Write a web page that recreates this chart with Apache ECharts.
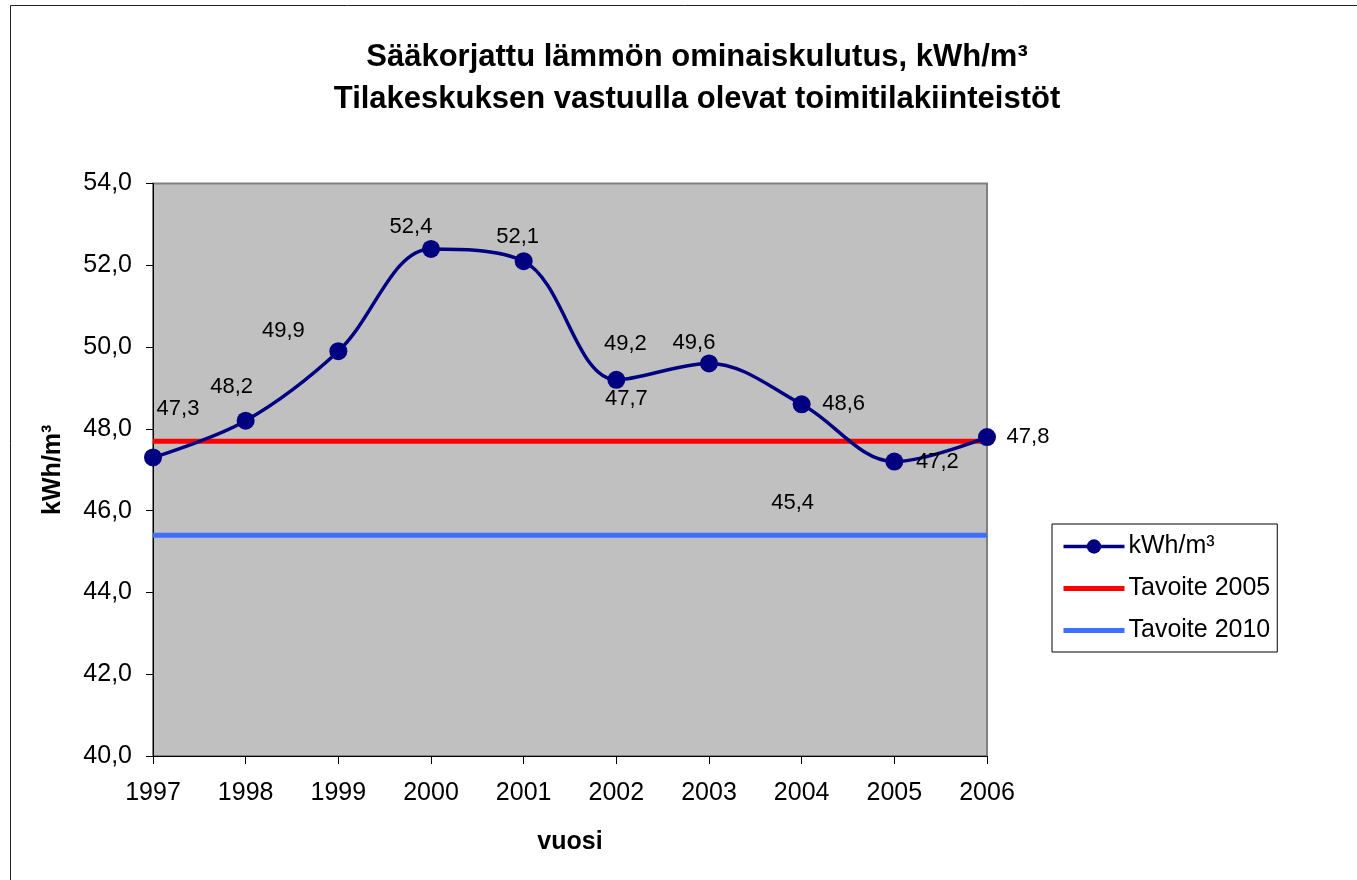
<!DOCTYPE html>
<html>
<head>
<meta charset="utf-8">
<script src="https://cdn.jsdelivr.net/npm/echarts@6/dist/echarts.min.js"></script>
<style>
html,body{margin:0;padding:0;background:#fff;}
#chart{width:1357px;height:880px;}
</style>
</head>
<body>
<div id="chart"></div>
<script>
const years = ['1997','1998','1999','2000','2001','2002','2003','2004','2005','2006'];
const kwh = [47.3, 48.2, 49.9, 52.4, 52.1, 49.2, 49.6, 48.6, 47.2, 47.8];
const target2005 = [47.7, 47.7, 47.7, 47.7, 47.7, 47.7, 47.7, 47.7, 47.7, 47.7];
const target2010 = [45.4, 45.4, 45.4, 45.4, 45.4, 45.4, 45.4, 45.4, 45.4, 45.4];
const yTicks = { min: 40, max: 54, interval: 2 };
const titleLines = ['Sääkorjattu lämmön ominaiskulutus, kWh/m³', 'Tilakeskuksen vastuulla olevat toimitilakiinteistöt'];
const seriesNames = ['kWh/m³', 'Tavoite 2005', 'Tavoite 2010'];

// label offsets (style), per point
const kwhLabelOffsets = [[25,-49],[-14,-34],[-55,-20],[-20,-22],[-6,-24],[9,-36],[-15,-20],[42,0],[43,0],[41,0]];
const t2005LabelIndex = 5, t2005LabelOffset = [10,-42];
const t2010LabelIndex = 7, t2010LabelOffset = [-9,-32];

const fmt = v => v.toFixed(1).replace('.', ',');
const FONT = '"Liberation Sans", Arial, sans-serif';

const chart = echarts.init(document.getElementById('chart'), null, {renderer:'canvas'});

const lblBase = {show:true, position:'inside', color:'#000', fontSize:22, fontFamily:FONT,
  formatter: p => fmt(p.value)};

const kwhData = kwh.map((v,i) => ({value:v, label:Object.assign({}, lblBase, {offset:kwhLabelOffsets[i]})}));
const t05Data = target2005.map((v,i) => i===t2005LabelIndex ? {value:v, label:Object.assign({}, lblBase, {offset:t2005LabelOffset})} : {value:v});
const t10Data = target2010.map((v,i) => i===t2010LabelIndex ? {value:v, label:Object.assign({}, lblBase, {offset:t2010LabelOffset})} : {value:v});

chart.setOption({
  animation:false,
  backgroundColor:'#fff',
  textStyle:{fontFamily:FONT},
  title:{
    text: titleLines.join('\n'),
    left: 692, top: 31, textAlign:'center',
    textStyle:{fontSize:31, fontWeight:'bold', color:'#000', lineHeight:42, fontFamily:FONT}
  },
  graphic:[{type:'rect', shape:{x:10.5,y:5.5,width:1400,height:900}, style:{fill:'none', stroke:'#222', lineWidth:1}, silent:true, z:-1}],
  grid:{left:153, right:370, top:183.5, bottom:124, show:true, backgroundColor:'#C0C0C0', borderColor:'#808080', borderWidth:2},
  legend:{
    orient:'vertical', left:1052, top:524,
    data: [
      {name:seriesNames[0], lineStyle:{width:3.5, color:'#000080'}},
      {name:seriesNames[1], itemStyle:{opacity:0}, lineStyle:{width:5, color:'#FF0000'}},
      {name:seriesNames[2], itemStyle:{opacity:0}, lineStyle:{width:5, color:'#3F6FFF'}}
    ],
    backgroundColor:'#fff', borderColor:'#000', borderWidth:1,
    padding:[10,7,9,9], itemWidth:61, itemHeight:18, itemGap:17,
    textStyle:{fontSize:25, color:'#000', fontFamily:FONT, padding:[0,0,0,-1]}
  },
  xAxis:{
    type:'category', data:years, boundaryGap:false,
    name:'vuosi', nameLocation:'middle', nameGap:74,
    nameTextStyle:{fontSize:25, fontWeight:'bold', color:'#000', fontFamily:FONT},
    axisLine:{lineStyle:{color:'#000', width:1}},
    axisTick:{show:true, length:8, lineStyle:{color:'#000'}},
    axisLabel:{fontSize:25, color:'#000', margin:25, fontFamily:FONT},
    splitLine:{show:false}
  },
  yAxis:{
    type:'value', min:yTicks.min, max:yTicks.max, interval:yTicks.interval,
    name:'kWh/m³', nameLocation:'middle', nameGap:87, nameRotate:90,
    nameTextStyle:{fontSize:25, fontWeight:'bold', color:'#000', fontFamily:FONT},
    axisLine:{show:true, lineStyle:{color:'#000', width:1}},
    axisTick:{show:true, length:7, lineStyle:{color:'#000'}},
    axisLabel:{fontSize:25, color:'#000', margin:21, formatter:v=>fmt(v), fontFamily:FONT},
    splitLine:{show:false}
  },
  series:[
    {name:seriesNames[0], type:'line', data:kwhData, smooth:0.35, z:5,
      symbol:'circle', symbolSize:18, showAllSymbol:true,
      lineStyle:{color:'#000080', width:3.5}, itemStyle:{color:'#000080'}},
    {name:seriesNames[1], type:'line', data:t05Data, showSymbol:true, showAllSymbol:true, symbol:'circle', symbolSize:0.01, z:3,
      lineStyle:{color:'#FF0000', width:5}, itemStyle:{color:'#FF0000'}},
    {name:seriesNames[2], type:'line', data:t10Data, showSymbol:true, showAllSymbol:true, symbol:'circle', symbolSize:0.01, z:3,
      lineStyle:{color:'#3F6FFF', width:5}, itemStyle:{color:'#3F6FFF'}}
  ]
});
</script>
</body>
</html>
